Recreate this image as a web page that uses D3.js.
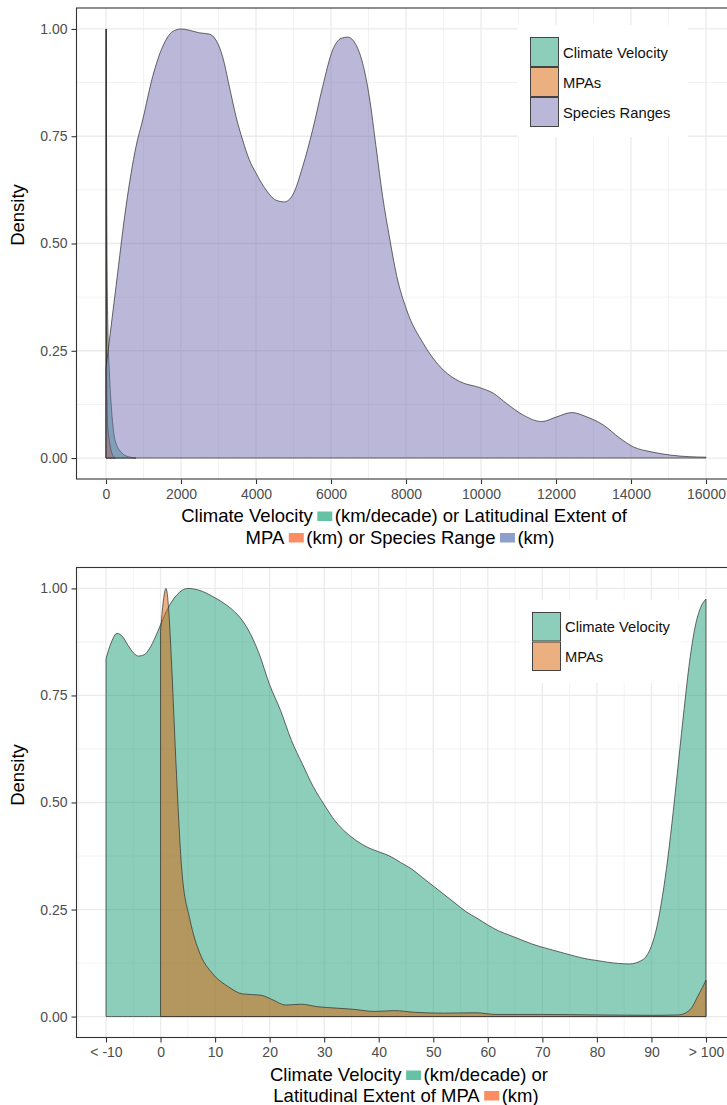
<!DOCTYPE html>
<html>
<head>
<meta charset="utf-8">
<script src="https://cdn.jsdelivr.net/npm/d3@7"></script>
<style>
  body { margin: 0; background: #fff; }
  text { font-family: "Liberation Sans", Arial, Helvetica, sans-serif; }
</style>
</head>
<body>
<script>
// series names (legend order)
let topSeries = ["Climate Velocity", "MPAs", "Species Ranges"];
let bottomSeries = ["Climate Velocity", "MPAs"];

// top panel, x in km, scaled density
let topVelocityX = [0, 5, 12, 25, 50, 90, 150, 240, 420, 600, 800];
let topVelocityY = [0.5, 1.0, 0.8, 0.5, 0.3, 0.2, 0.11, 0.042, 0.012, 0.003, 0.0];
let topMpaX = [0, 3, 10, 25, 50, 100, 160, 250];
let topMpaY = [0.9, 1.0, 0.45, 0.15, 0.07, 0.035, 0.01, 0.0];
let topRangeX = [0, 267, 533, 800, 978, 1244, 1511, 1778, 2000, 2222, 2489, 2756, 2933, 3111, 3289, 3467,
  3644, 3822, 4000, 4267, 4533, 4756, 4978, 5244, 5511, 5778, 6044, 6267, 6444, 6667, 6844, 7022, 7200,
  7378, 7556, 7751, 8018, 8462, 8996, 9440, 9973, 10329, 10684, 11129, 11618, 12018, 12418, 12818, 13262,
  13707, 14062, 14507, 15040, 15573, 16000];
let topRangeY = [0.21, 0.40, 0.586, 0.726, 0.788, 0.889, 0.959, 0.994, 1.0, 0.997, 0.991, 0.988, 0.974,
  0.935, 0.866, 0.796, 0.741, 0.695, 0.664, 0.625, 0.601, 0.597, 0.613, 0.679, 0.765, 0.866, 0.951, 0.978,
  0.981, 0.963, 0.92, 0.842, 0.726, 0.609, 0.516, 0.425, 0.345, 0.267, 0.205, 0.178, 0.164, 0.151, 0.127,
  0.1, 0.085, 0.096, 0.106, 0.096, 0.077, 0.046, 0.026, 0.015, 0.007, 0.003, 0.002];

// bottom panel, x in km/decade or km
let bottomVelocityX = [-10, -9, -8, -7, -6, -5, -4, -3, -2, -1, 0, 1, 2, 3, 4, 5, 7, 10, 12, 14, 15, 16, 18,
  20, 22, 24, 26, 28, 30, 32, 34, 36, 38, 40, 42, 44, 46, 48, 50, 52, 54, 56, 58, 60, 62, 64, 66, 68, 70,
  72, 74, 76, 78, 80, 82, 84, 86, 88, 89, 90, 91, 92, 93, 94, 95, 96, 97, 98, 99, 100];
let bottomVelocityY = [0.836, 0.875, 0.895, 0.888, 0.868, 0.85, 0.842, 0.845, 0.86, 0.885, 0.915, 0.945,
  0.968, 0.985, 0.996, 1.0, 0.996, 0.978, 0.962, 0.94, 0.925, 0.905, 0.85, 0.775, 0.715, 0.645, 0.59,
  0.537, 0.495, 0.457, 0.43, 0.41, 0.395, 0.385, 0.375, 0.36, 0.345, 0.325, 0.305, 0.285, 0.265, 0.245,
  0.23, 0.214, 0.2, 0.19, 0.18, 0.17, 0.162, 0.155, 0.148, 0.141, 0.135, 0.131, 0.127, 0.124, 0.123,
  0.13, 0.14, 0.165, 0.21, 0.28, 0.37, 0.48, 0.6, 0.72, 0.83, 0.91, 0.955, 0.975];
let bottomMpaX = [0, 0.5, 1, 1.5, 2, 2.8, 3.9, 5.4, 7.2, 9.5, 12.4, 15, 18.4, 20.6, 22.9, 25.8, 28.8, 32,
  35.4, 39.2, 42.9, 46.6, 51.9, 57.8, 61.5, 70, 80, 90, 95, 97, 98.6, 100];
let bottomMpaY = [0.9, 0.97, 1.0, 0.95, 0.83, 0.6, 0.342, 0.226, 0.148, 0.101, 0.07, 0.053, 0.05, 0.039,
  0.027, 0.029, 0.023, 0.02, 0.017, 0.012, 0.014, 0.01, 0.008, 0.009, 0.005, 0.005, 0.004, 0.003, 0.004,
  0.015, 0.05, 0.085];

// ticks
let yTicks = [0, 0.25, 0.5, 0.75, 1];
let yTickLabels = ["0.00", "0.25", "0.50", "0.75", "1.00"];
let yMinor = [0.125, 0.375, 0.625, 0.875];
let topXTicks = [0, 2000, 4000, 6000, 8000, 10000, 12000, 14000, 16000];
let topXTickLabels = ["0", "2000", "4000", "6000", "8000", "10000", "12000", "14000", "16000"];
let topXMinor = [1000, 3000, 5000, 7000, 9000, 11000, 13000, 15000];
let bottomXTicks = [-10, 0, 10, 20, 30, 40, 50, 60, 70, 80, 90, 100];
let bottomXTickLabels = ["< -10", "0", "10", "20", "30", "40", "50", "60", "70", "80", "90", "> 100"];
let bottomXMinor = [-15, -5, 5, 15, 25, 35, 45, 55, 65, 75, 85, 95, 105];

// colours
let fillColor = {"Climate Velocity": "#1B9E77", "MPAs": "#D95F02", "Species Ranges": "#7570B3"};
let swatch = {green: "#66C2A5", orange: "#FC8D62", blue: "#8DA0CB"};

let width = 727, height = 1105;
let left = 76, right = 736;
let titleSize = 18.5;

let svg = d3.select("body").append("svg")
    .attr("width", width)
    .attr("height", height)
    .style("display", "block");

svg.append("rect").attr("width", width).attr("height", height).attr("fill", "#fff");

function drawPanel(cfg) {
  let x = d3.scaleLinear().domain(cfg.xDomain).range([left, right]);
  let y = d3.scaleLinear().domain([-0.05, 1.05]).range([cfg.bottom, cfg.top]);

  let g = svg.append("g");
  svg.append("clipPath").attr("id", cfg.id)
    .append("rect")
    .attr("x", left).attr("y", cfg.top)
    .attr("width", right - left).attr("height", cfg.bottom - cfg.top);

  let pg = g.append("g").attr("clip-path", "url(#" + cfg.id + ")");

  // minor grid
  pg.selectAll(".vmin").data(cfg.xMinor).enter().append("line")
    .attr("x1", d => x(d)).attr("x2", d => x(d))
    .attr("y1", cfg.top).attr("y2", cfg.bottom)
    .attr("stroke", "#EFEFEF").attr("stroke-width", 0.8);
  pg.selectAll(".hmin").data(yMinor).enter().append("line")
    .attr("x1", left).attr("x2", right)
    .attr("y1", d => y(d)).attr("y2", d => y(d))
    .attr("stroke", "#EFEFEF").attr("stroke-width", 0.8);
  // major grid
  pg.selectAll(".vmaj").data(cfg.xTicks).enter().append("line")
    .attr("x1", d => x(d)).attr("x2", d => x(d))
    .attr("y1", cfg.top).attr("y2", cfg.bottom)
    .attr("stroke", "#EBEBEB").attr("stroke-width", 1.3);
  pg.selectAll(".hmaj").data(yTicks).enter().append("line")
    .attr("x1", left).attr("x2", right)
    .attr("y1", d => y(d)).attr("y2", d => y(d))
    .attr("stroke", "#EBEBEB").attr("stroke-width", 1.3);

  // density areas
  let area = d3.area()
    .x(d => x(d[0]))
    .y0(y(0))
    .y1(d => y(d[1]))
    .curve(d3.curveMonotoneX);

  cfg.series.forEach(s => {
    let pts = s.xs.map((v, i) => [v, s.ys[i]]);
    pg.append("path").datum(pts)
      .attr("d", area)
      .attr("fill", fillColor[s.name])
      .attr("fill-opacity", 0.5)
      .attr("stroke", "#2b2b2b")
      .attr("stroke-width", 0.7);
  });

  // legend
  let lb = cfg.legend;
  pg.append("rect")
    .attr("x", lb.bx).attr("y", lb.by)
    .attr("width", lb.bw).attr("height", lb.bh)
    .attr("fill", "#fff");
  let items = pg.selectAll(".key").data(cfg.series).enter().append("g")
    .attr("transform", (d, i) => "translate(" + lb.kx + "," + (lb.ky + i * lb.kh) + ")");
  items.append("rect").attr("width", lb.kw).attr("height", lb.kh).attr("fill", "#fff");
  items.append("rect")
    .attr("x", 0.5).attr("y", 0.5)
    .attr("width", lb.kw - 1).attr("height", lb.kh - 1)
    .attr("fill", d => fillColor[d.name]).attr("fill-opacity", 0.5)
    .attr("stroke", "#333").attr("stroke-width", 0.9);
  items.append("text")
    .attr("x", lb.kw + 4).attr("y", lb.kh / 2 + 5.5)
    .attr("font-size", "14.75px").attr("fill", "#111")
    .text(d => d.name);

  // panel border
  g.append("rect")
    .attr("x", left + 0.5).attr("y", cfg.top + 0.5)
    .attr("width", right - left).attr("height", cfg.bottom - cfg.top - 1)
    .attr("fill", "none").attr("stroke", "#333").attr("stroke-width", 1.1);

  // axes
  let xAxis = d3.axisBottom(x)
    .tickValues(cfg.xTicks)
    .tickFormat((d, i) => cfg.xLabels[i])
    .tickSizeInner(4.5).tickSizeOuter(0).tickPadding(5);
  let xg = g.append("g").attr("transform", "translate(0," + cfg.bottom + ")").call(xAxis);
  xg.select(".domain").remove();
  xg.selectAll("line").attr("stroke", "#333").attr("stroke-width", 1.1);
  xg.selectAll("text").attr("font-size", "14px").attr("fill", "#4D4D4D")
    .style("font-family", "'Liberation Sans', Arial, Helvetica, sans-serif");

  let yAxis = d3.axisLeft(y)
    .tickValues(yTicks)
    .tickFormat((d, i) => yTickLabels[i])
    .tickSizeInner(4.5).tickSizeOuter(0).tickPadding(4);
  let yg = g.append("g").attr("transform", "translate(" + left + ",0)").call(yAxis);
  yg.select(".domain").remove();
  yg.selectAll("line").attr("stroke", "#333").attr("stroke-width", 1.1);
  yg.selectAll("text").attr("font-size", "14px").attr("fill", "#4D4D4D")
    .style("font-family", "'Liberation Sans', Arial, Helvetica, sans-serif");

  // y title
  g.append("text")
    .attr("transform", "translate(24," + cfg.yTitleY + ") rotate(-90)")
    .attr("text-anchor", "middle")
    .attr("font-size", titleSize + "px").attr("fill", "#000")
    .text("Density");

  // x title lines with colour squares
  cfg.titleLines.forEach(line => titleLine(g, line.parts, line.cx, line.y));
}

function titleLine(g, parts, cx, baseline) {
  let lg = g.append("g");
  let widths = parts.map(p => {
    if (typeof p !== "string") return 4.5 + 15 + 2.5;
    let t = lg.append("text").attr("font-size", titleSize + "px").text(p);
    let w = t.node().getComputedTextLength();
    t.remove();
    return w;
  });
  let total = d3.sum(widths);
  let cur = cx - total / 2;
  parts.forEach((p, i) => {
    if (typeof p === "string") {
      lg.append("text")
        .attr("x", cur).attr("y", baseline)
        .attr("font-size", titleSize + "px").attr("fill", "#000")
        .text(p);
    } else {
      lg.append("rect")
        .attr("x", cur + 4.5).attr("y", baseline - 10.5)
        .attr("width", 15).attr("height", 9.5)
        .attr("fill", p.sq);
    }
    cur += widths[i];
  });
}

drawPanel({
  id: "clipTop",
  top: 7.5, bottom: 479.5,
  xDomain: [-800, 16800],
  xTicks: topXTicks, xLabels: topXTickLabels, xMinor: topXMinor,
  series: [
    {name: topSeries[0], xs: topVelocityX, ys: topVelocityY},
    {name: topSeries[1], xs: topMpaX, ys: topMpaY},
    {name: topSeries[2], xs: topRangeX, ys: topRangeY}
  ],
  legend: {bx: 518, by: 25, bw: 170, bh: 112, kx: 530, ky: 37, kw: 29, kh: 30},
  yTitleY: 215,
  titleLines: [
    {cx: 404, y: 522, parts: ["Climate Velocity", {sq: swatch.green}, "(km/decade) or Latitudinal Extent of"]},
    {cx: 400, y: 543.5, parts: ["MPA", {sq: swatch.orange}, "(km) or Species Range", {sq: swatch.blue}, "(km)"]}
  ]
});

drawPanel({
  id: "clipBottom",
  top: 567, bottom: 1038,
  xDomain: [-15.5, 105.5],
  xTicks: bottomXTicks, xLabels: bottomXTickLabels, xMinor: bottomXMinor,
  series: [
    {name: bottomSeries[0], xs: bottomVelocityX, ys: bottomVelocityY},
    {name: bottomSeries[1], xs: bottomMpaX, ys: bottomMpaY}
  ],
  legend: {bx: 520, by: 600, bw: 161, bh: 83, kx: 532, ky: 612, kw: 29, kh: 29.5},
  yTitleY: 775,
  titleLines: [
    {cx: 409, y: 1081, parts: ["Climate Velocity", {sq: swatch.green}, "(km/decade) or"]},
    {cx: 406, y: 1101.5, parts: ["Latitudinal Extent of MPA", {sq: swatch.orange}, "(km)"]}
  ]
});
</script>
</body>
</html>
